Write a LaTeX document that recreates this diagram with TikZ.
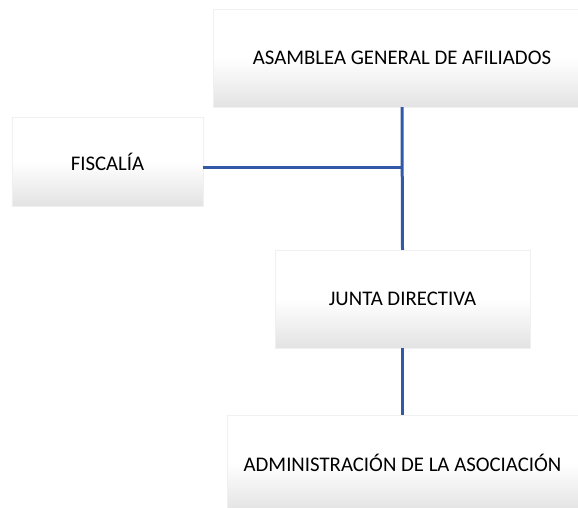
\documentclass[tikz,border=0pt]{standalone}
\usepackage{fontspec}
\setmainfont{Carlito}
\definecolor{linkblue}{RGB}{50,88,168}
\tikzset{
  orgbox/.style={rectangle, inner sep=0pt, top color=white, bottom color=black!11, middle color=white,
    draw=black!6, line width=0.4bp, font=\fontsize{20.8bp}{24bp}\selectfont, text=black},
  link/.style={draw=linkblue, line width=3bp}
}
\begin{document}
\begin{tikzpicture}[x=1bp,y=-1bp]
\useasboundingbox (0,0) rectangle (578,508);
\clip (0,0) rectangle (578,508);
\node[orgbox, minimum width=378bp, minimum height=98bp] (asam) at (402,58) {ASAMBLEA GENERAL DE AFILIADOS};
\node[orgbox, minimum width=191bp, minimum height=89bp] (fisc) at (107.5,161.5) {FISCALÍA};
\node[orgbox, minimum width=255bp, minimum height=98bp] (junta) at (402.5,299) {JUNTA DIRECTIVA};
\node[orgbox, minimum width=351bp, minimum height=96bp] (admin) at (402.5,463) {ADMINISTRACIÓN DE LA ASOCIACIÓN};
\draw[link] (asam.south) -- (junta.north);
\draw[link] ([yshift=-6.5bp]fisc.east) -- ([yshift=-6.5bp]fisc.east -| asam.south);
\draw[link] (junta.south) -- (admin.north);
\end{tikzpicture}
\end{document}
